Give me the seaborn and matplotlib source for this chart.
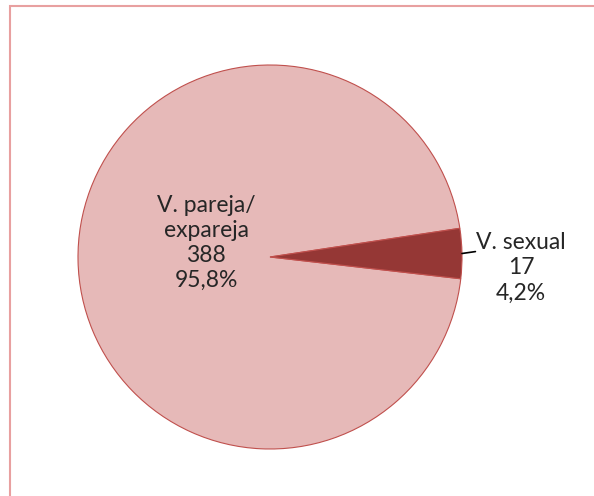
import numpy as np
import matplotlib
matplotlib.use("Agg")
import matplotlib.pyplot as plt
import seaborn as sns
from matplotlib.patches import Rectangle

categories = ["V. pareja/\nexpareja", "V. sexual"]
counts = [388, 17]
percents = ["95,8%", "4,2%"]
colors = ["#E6B9B8", "#953735"]

sns.set_theme(style="white")
plt.rcParams['font.family'] = ['Lato', 'DejaVu Sans']

W, H = 594, 496
fig = plt.figure(figsize=(W / 100, H / 100), dpi=100)
fig.patch.set_facecolor("white")

cx, cy, r = 270, 257, 192
ax = fig.add_axes([(cx - r) / W, (H - cy - r) / H, 2 * r / W, 2 * r / H])
ax.set_xlim(-1, 1)
ax.set_ylim(-1, 1)
ax.axis("off")

start = 8.6
wedges, _ = ax.pie(counts, colors=colors, startangle=start, counterclock=True,
                   radius=1.0, wedgeprops=dict(edgecolor="#C0504D", linewidth=0.8))
ax.set_xlim(-1, 1)
ax.set_ylim(-1, 1)
ax.set_aspect("auto")

fs = 16.5
ls = 1.24
# Label inside big slice
ax.text(-0.333, 0.073, f"{categories[0]}\n{counts[0]}\n{percents[0]}",
        ha="center", va="center", fontsize=fs, color="#262626", linespacing=ls)

# Small slice label with leader line
w = wedges[1]
mid = np.deg2rad((w.theta1 + w.theta2) / 2)
x0, y0 = np.cos(mid), np.sin(mid)
ax.plot([x0, x0 + 0.07], [y0, y0 + 0.01], color="black", lw=1.2, clip_on=False)
ax.text(1.307, -0.057, f"{categories[1]}\n{counts[1]}\n{percents[1]}",
        ha="center", va="center", fontsize=fs, color="#262626", linespacing=ls)

# Outer border
fig.patches.append(Rectangle((9.5 / W, -0.05), 1.2, (H - 5.5) / H + 0.05,
                             transform=fig.transFigure, fill=False,
                             edgecolor="#E8A0A0", linewidth=1.5))

fig.savefig("out.png", dpi=100)
